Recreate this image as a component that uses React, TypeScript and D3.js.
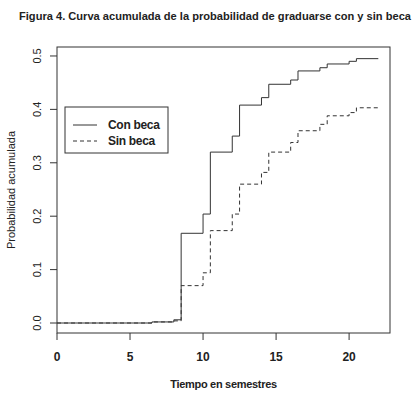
import React from 'react';
import * as d3 from 'd3';

// tiempos de los escalones (semestres)
const times = [0, 6.5, 8, 8.5, 10, 10.5, 12, 12.5, 14, 14.5, 16, 16.5, 18, 18.5, 20, 20.5, 22];
const conBeca = [0, 0.002, 0.006, 0.168, 0.204, 0.32, 0.35, 0.408, 0.422, 0.447, 0.455, 0.472, 0.478, 0.485, 0.49, 0.495, 0.495];
const sinBeca = [0, 0.002, 0.004, 0.07, 0.094, 0.173, 0.204, 0.26, 0.282, 0.32, 0.338, 0.36, 0.372, 0.388, 0.394, 0.403, 0.403];
const xTicks = [0, 5, 10, 15, 20];
const yTicks = [0, 0.1, 0.2, 0.3, 0.4, 0.5];

const W = 419, H = 397;
const left = 57, right = 390, top = 47, bottom = 333;
const font = "'Liberation Sans', Arial, sans-serif";
const ink = '#333';

export default function App() {
  const x = d3.scaleLinear().domain([0, 22.8]).range([left, right]);
  const y = d3.scaleLinear().domain([-0.0187, 0.5168]).range([bottom, top]);

  const line = d3.line<number>()
    .x((d, i) => x(times[i]))
    .y((d) => y(d))
    .curve(d3.curveStepAfter);

  return (
    <svg width={W} height={H} style={{ position: 'absolute', left: 0, top: 0, background: '#fff' }}>
      <text x={19} y={20} textLength={392} lengthAdjust="spacingAndGlyphs" fontFamily={font} fontWeight="bold" fontSize={11} fill="#222">
        Figura 4. Curva acumulada de la probabilidad de graduarse con y sin beca
      </text>

      <rect x={left} y={top} width={right - left} height={bottom - top} fill="none" stroke={ink} strokeWidth={1} />

      <path d={line(sinBeca) || ''} fill="none" stroke={ink} strokeWidth={1} strokeDasharray="4,3" />
      <path d={line(conBeca) || ''} fill="none" stroke={ink} strokeWidth={1} />

      {xTicks.map((t) => (
        <g key={t}>
          <line x1={x(t)} x2={x(t)} y1={bottom} y2={bottom + 7} stroke={ink} />
          <text x={x(t)} y={361} textAnchor="middle" fontFamily={font} fontWeight="bold" fontSize={12} fill="#222">{t}</text>
        </g>
      ))}
      {yTicks.map((t) => (
        <g key={t}>
          <line x1={left - 7} x2={left} y1={y(t)} y2={y(t)} stroke={ink} />
          <text transform={`translate(41,${y(t)}) rotate(-90)`} textAnchor="middle" fontFamily={font} fontSize={11} fill="#222">{d3.format('.1f')(t)}</text>
        </g>
      ))}

      <text x={(left + right) / 2} y={388} textAnchor="middle" fontFamily={font} fontWeight="bold" fontSize={11} fill="#222" letterSpacing={-0.3}>
        Tiempo en semestres
      </text>
      <text transform={`translate(15,${(top + bottom) / 2}) rotate(-90)`} textAnchor="middle" fontFamily={font} fontSize={11} fill="#222">
        Probabilidad acumulada
      </text>

      <g>
        <rect x={65} y={107} width={103} height={46} fill="#fff" stroke={ink} />
        <line x1={73} x2={97} y1={125} y2={125} stroke={ink} />
        <line x1={73} x2={97} y1={141} y2={141} stroke={ink} strokeDasharray="4,3" />
        <text x={108} y={129} fontFamily={font} fontWeight="bold" fontSize={12} fill="#222" letterSpacing={-0.3}>Con beca</text>
        <text x={108} y={145} fontFamily={font} fontWeight="bold" fontSize={12} fill="#222" letterSpacing={-0.3}>Sin beca</text>
      </g>
    </svg>
  );
}
